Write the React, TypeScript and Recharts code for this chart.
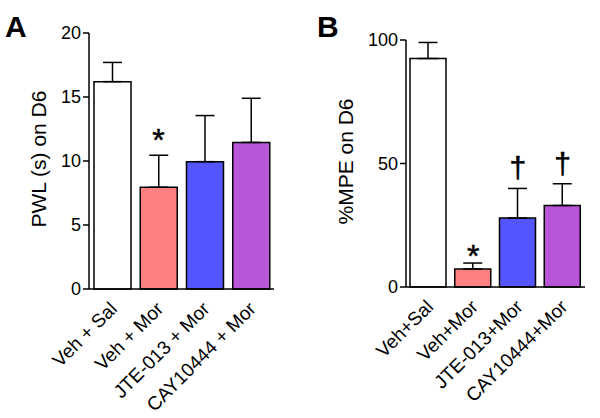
import React from "react";
import { Bar, Cell, ComposedChart, ErrorBar, Line, XAxis, YAxis } from "recharts";

// Panel A: paw withdrawal latency
const groupsA = ["Veh + Sal", "Veh + Mor", "JTE-013 + Mor", "CAY10444 + Mor"];
const pwlMean = [16.2, 7.95, 9.95, 11.45];
const pwlSem = [1.5, 2.5, 3.6, 3.45];
const pwlMark = ["", "*", "", ""];

// Panel B: %MPE
const groupsB = ["Veh+Sal", "Veh+Mor", "JTE-013+Mor", "CAY10444+Mor"];
const mpeMean = [92.5, 7.3, 27.9, 33.0];
const mpeSem = [6.5, 2.4, 12.0, 8.8];
const mpeMark = ["", "*", "\u2020", "\u2020"];

const BAR_COLORS = ["#ffffff", "#ff8080", "#5555ff", "#b855d8"];
const FONT = "'Liberation Sans', Arial, sans-serif";

const buildRows = (groups: string[], mean: number[], sem: number[], mark: string[]) =>
    groups.map((g, i) => ({
        group: g,
        mean: mean[i],
        err: [0, sem[i]],
        mark: mark[i],
        markAt: mark[i] ? mean[i] + sem[i] : null,
    }));

const RotTick = ({ x, y, payload }: any) => (
    <g transform={`translate(${x + 6},${y + 13})`}>
        <text transform="rotate(-45)" textAnchor="end" x={0} y={0} fontSize={19} fill="#000" fontFamily={FONT}>
            {payload.value}
        </text>
    </g>
);

// significance marks sit just above the error bar caps
const markDot = (starShift: number) => (props: any) => {
    const { cx, cy, payload, index } = props;
    if (!payload.mark || cy == null) return <g key={index} />;
    const isStar = payload.mark === "*";
    return (
        <text
            key={index}
            x={cx}
            y={isStar ? cy + starShift : cy - 10}
            textAnchor="middle"
            fontSize={isStar ? 32 : 30}
            stroke="#000"
            strokeWidth={0.5}
            fill="#000"
            fontFamily={FONT}
        >
            {payload.mark}
        </text>
    );
};

function Panel({ rows, domain, ticks, ylabel, margin, barSize, starShift }: any) {
    return (
        <ComposedChart width={300} height={418} data={rows} margin={margin}>
            <XAxis
                dataKey="group"
                interval={0}
                height={120}
                tickLine={false}
                axisLine={{ stroke: "#000", strokeWidth: 1.5 }}
                tick={<RotTick />}
            />
            <YAxis
                domain={domain}
                ticks={ticks}
                width={60}
                tickSize={6}
                tickMargin={2}
                axisLine={{ stroke: "#000", strokeWidth: 1.5 }}
                tickLine={{ stroke: "#000", strokeWidth: 1.5 }}
                tick={{ fill: "#000", fontSize: 18, fontFamily: FONT }}
                label={{
                    content: ({ viewBox }: any) => {
                        const cx = viewBox.x + margin.labelX;
                        const cy = viewBox.y + viewBox.height / 2 - 2;
                        return (
                            <text
                                x={cx}
                                y={cy}
                                transform={`rotate(-90, ${cx}, ${cy})`}
                                textAnchor="middle"
                                dominantBaseline="central"
                                fontSize={21}
                                fill="#000"
                                fontFamily={FONT}
                            >
                                {ylabel}
                            </text>
                        );
                    },
                }}
            />
            <Bar dataKey="mean" barSize={barSize} stroke="#000" strokeWidth={1.5} isAnimationActive={false}>
                {rows.map((r: any, i: number) => (
                    <Cell key={r.group} fill={BAR_COLORS[i]} />
                ))}
                <ErrorBar dataKey="err" direction="y" width={9.5} stroke="#000" strokeWidth={1.5} />
            </Bar>
            <Line
                dataKey="markAt"
                stroke="none"
                dot={markDot(starShift)}
                activeDot={false}
                isAnimationActive={false}
                connectNulls={false}
            />
        </ComposedChart>
    );
}

export default function App() {
    const rowsA = buildRows(groupsA, pwlMean, pwlSem, pwlMark);
    const rowsB = buildRows(groupsB, mpeMean, mpeSem, mpeMark);
    const letter: React.CSSProperties = {
        position: "absolute",
        fontFamily: FONT,
        fontWeight: "bold",
        fontSize: 30,
        lineHeight: "30px",
    };
    return (
        <div style={{ position: "absolute", left: 0, top: 0, width: 600, height: 418, background: "#fff" }}>
            <div style={{ ...letter, left: 5, top: 12 }}>A</div>
            <div style={{ ...letter, left: 317, top: 12 }}>B</div>
            <div style={{ position: "absolute", left: 0, top: 0 }}>
                <Panel
                    rows={rowsA}
                    domain={[0, 20]}
                    ticks={[0, 5, 10, 15, 20]}
                    ylabel="PWL (s) on D6"
                    margin={{ top: 33, right: 26, bottom: 9, left: 29, labelX: 9 }}
                    barSize={37}
                    starShift={-4}
                />
            </div>
            <div style={{ position: "absolute", left: 300, top: 0 }}>
                <Panel
                    rows={rowsB}
                    domain={[0, 100]}
                    ticks={[0, 50, 100]}
                    ylabel="%MPE on D6"
                    margin={{ top: 40, right: 15, bottom: 11, left: 46, labelX: -1 }}
                    barSize={36}
                    starShift={4}
                />
            </div>
        </div>
    );
}
